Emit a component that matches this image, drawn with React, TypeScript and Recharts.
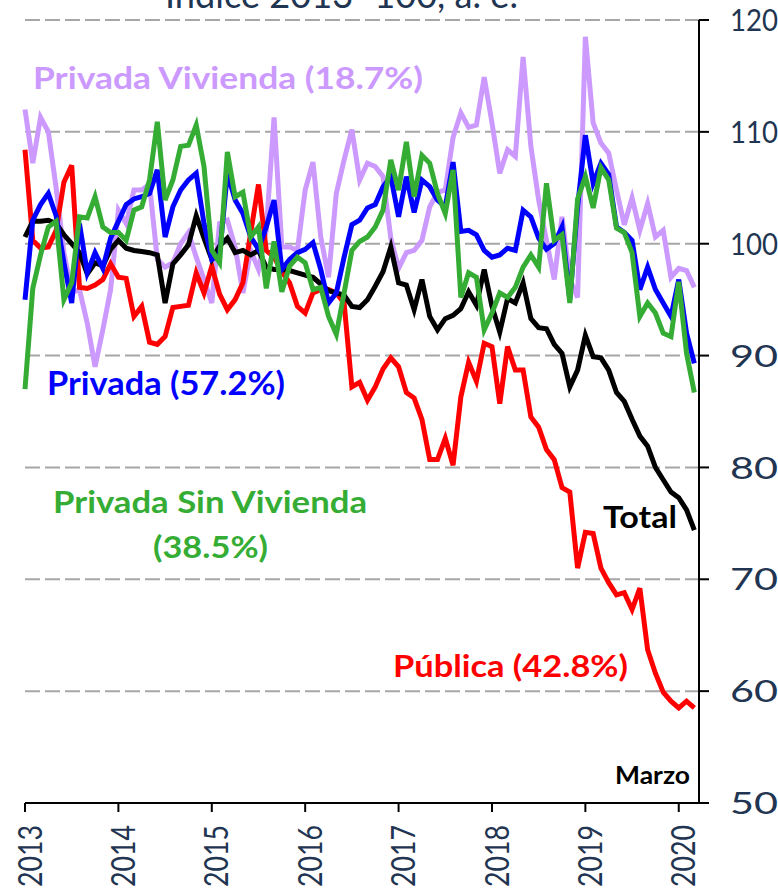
import React from 'react';
import { LineChart, Line, XAxis, YAxis, CartesianGrid } from 'recharts';

// monthly index, Jan 2013 .. Mar 2020 (index 2013 = 100, s.a.)
const years = ['2013', '2014', '2015', '2016', '2017', '2018', '2019', '2020'];
const yTicks = [50, 60, 70, 80, 90, 100, 110, 120];

const total = [
  100.6, 102.0, 102.0, 102.1, 101.8, 100.8, 100.0, 99.2, 97.3, 98.3, 98.0, 99.5,
  100.3, 99.6, 99.4, 99.3, 99.2, 99.0, 94.7, 98.2, 99.0, 99.9, 102.5, 100.5,
  98.6, 99.8, 100.5, 99.2, 99.4, 99.0, 99.4, 97.9, 97.7, 97.7, 97.6, 97.4,
  97.2, 97.0, 96.4, 95.8, 95.6, 95.4, 94.4, 94.3, 95.0, 96.2, 97.5, 99.7,
  96.5, 96.3, 94.1, 96.8, 93.5, 92.3, 93.3, 93.6, 94.2, 95.7, 94.5, 97.7,
  94.4, 92.1, 95.1, 94.7, 96.5, 93.3, 92.5, 92.4, 91.0, 90.2, 87.2, 88.7,
  91.8, 89.9, 89.8, 88.7, 86.7, 85.9, 84.3, 82.8, 81.9, 80.0, 78.9, 77.8,
  77.3, 76.2, 74.4,
];

const privada = [
  95.0, 102.1, 103.5, 104.5, 102.5, 98.3, 94.7, 101.8, 97.4, 99.2, 97.8, 100.5,
  102.0, 103.5, 104.0, 104.2, 104.5, 106.6, 100.6, 103.3, 104.8, 105.7, 106.3, 101.8,
  98.6, 99.0, 106.3, 103.9, 102.7, 100.6, 99.5, 101.5, 103.9, 97.7, 98.6, 99.2,
  99.5, 100.1, 97.7, 94.7, 95.6, 98.8, 101.7, 102.1, 103.2, 103.5, 105.1, 106.0,
  102.4, 106.0, 102.8, 105.7, 105.1, 103.9, 103.3, 107.3, 101.1, 101.2, 100.8, 99.4,
  98.8, 99.0, 99.6, 99.4, 103.0, 102.4, 100.5, 99.5, 100.0, 101.5, 95.0, 103.3,
  109.7, 105.4, 107.2, 106.2, 101.5, 101.0, 100.3, 95.9, 97.9, 95.9, 94.7, 93.5,
  96.8, 92.0, 89.3,
];

const vivienda = [
  112.0, 107.2, 111.3, 110.0, 105.0, 99.2, 95.6, 95.9, 92.9, 89.0, 92.3, 95.9,
  103.0, 101.8, 104.8, 104.8, 105.3, 98.6, 97.9, 98.3, 100.0, 101.0, 98.8, 96.8,
  94.7, 101.8, 102.1, 99.7, 95.6, 99.4, 97.7, 101.2, 111.3, 99.7, 99.7, 99.4,
  104.8, 107.3, 100.6, 97.0, 104.5, 107.5, 110.2, 105.7, 107.2, 106.9, 106.0, 100.5,
  97.8, 99.2, 99.4, 100.3, 103.3, 104.6, 104.8, 109.5, 111.7, 110.4, 110.6, 114.9,
  110.8, 106.3, 108.4, 107.8, 116.7, 108.7, 103.9, 100.3, 96.8, 102.4, 96.8, 95.2,
  118.5, 110.8, 109.0, 108.1, 104.8, 101.7, 104.1, 101.2, 103.6, 100.6, 101.2, 97.0,
  97.8, 97.6, 96.1,
];

const sinVivienda = [
  87.0, 96.0, 99.0, 101.5, 102.0, 95.0, 96.5, 102.4, 102.3, 104.2, 101.5, 101.0,
  101.0, 100.3, 103.0, 103.3, 105.7, 110.9, 103.9, 105.7, 108.7, 108.8, 110.6, 106.9,
  99.4, 98.3, 108.2, 104.2, 104.6, 100.6, 101.5, 96.0, 100.2, 95.7, 98.0, 98.8,
  98.3, 95.9, 96.1, 93.5, 91.9, 95.6, 99.4, 100.2, 100.6, 101.5, 103.0, 107.5,
  104.8, 109.1, 104.2, 107.9, 107.2, 104.5, 102.7, 106.6, 95.2, 97.4, 97.0, 92.3,
  93.8, 95.6, 95.2, 96.1, 97.9, 99.0, 97.9, 105.4, 100.3, 100.8, 94.7, 104.0,
  106.0, 103.2, 106.8, 105.7, 101.4, 101.0, 99.2, 93.5, 94.7, 93.8, 92.0, 91.7,
  96.6, 90.2, 86.7,
];

const publica = [
  108.4, 100.3, 99.6, 99.7, 101.2, 105.5, 107.0, 96.1, 96.0, 96.3, 96.8, 98.2,
  97.0, 96.9, 93.5, 94.4, 91.2, 91.0, 91.7, 94.3, 94.4, 94.5, 97.4, 95.6,
  98.0, 95.5, 94.1, 95.0, 96.5, 101.0, 105.3, 99.4, 98.8, 97.5, 96.5, 94.4,
  93.8, 95.6, 95.9, 95.9, 95.6, 94.7, 87.2, 87.6, 86.0, 87.2, 88.8, 89.8,
  89.0, 86.7, 86.2, 84.3, 80.7, 80.7, 82.6, 80.2, 86.3, 89.4, 87.7, 91.1,
  90.8, 85.7, 90.8, 88.7, 88.7, 84.5, 83.6, 81.6, 80.7, 78.2, 77.8, 71.0,
  74.2, 74.1, 71.0, 69.7, 68.6, 68.8, 67.3, 69.2, 63.7, 61.6, 59.9, 59.1,
  58.5, 59.1, 58.5,
];

const data = total.map((v, i) => ({
  m: i,
  total: v,
  privada: privada[i],
  vivienda: vivienda[i],
  sinVivienda: sinVivienda[i],
  publica: publica[i],
}));

const yearTicks = years.map((_, k) => k * 12);

const navy = '#1f3552';
const font = 'Lato, "Noto Sans", sans-serif';

const XTick = (props: any) => {
  const { x, payload } = props;
  const label = years[Math.round(payload.value / 12)];
  return (
    <g transform={`translate(${x},825)`}>
      <text
        transform="rotate(-90)"
        x={0}
        y={5}
        dy="0.36em"
        textAnchor="end"
        fontSize={32}
        fontFamily={font}
        fill={navy}
        textLength={62}
        lengthAdjust="spacingAndGlyphs"
      >
        {label}
      </text>
    </g>
  );
};

const YTick = (props: any) => {
  const { y, payload } = props;
  return (
    <text
      x={730}
      y={y}
      dy="0.36em"
      fontSize={31}
      fontFamily={font}
      fill={navy}
      textLength={48}
      lengthAdjust="spacingAndGlyphs"
    >
      {payload.value}
    </text>
  );
};

const Labels = () => (
  <svg
    width={778}
    height={889}
    style={{ position: 'absolute', left: 0, top: 0, pointerEvents: 'none', whiteSpace: 'pre' }}
    fontFamily={font}
  >
    <text x={165} y={8} fontSize={36} fill={navy} textLength={353} lengthAdjust="spacingAndGlyphs">
      Índice 2013=100, a. e.
    </text>
    <text x={33} y={89} fontSize={31} fontWeight="bold" fill="#cc99ff" textLength={390} lengthAdjust="spacingAndGlyphs">
      {'Privada Vivienda  (18.7%)'}
    </text>
    <text x={47} y={395} fontSize={32} fontWeight="bold" fill="#0000ff" textLength={238} lengthAdjust="spacingAndGlyphs">
      Privada (57.2%)
    </text>
    <text x={53} y={513} fontSize={31} fontWeight="bold" fill="#35ad35" textLength={314} lengthAdjust="spacingAndGlyphs">
      Privada Sin Vivienda
    </text>
    <text x={153} y={558} fontSize={31} fontWeight="bold" fill="#35ad35" textLength={115} lengthAdjust="spacingAndGlyphs">
      (38.5%)
    </text>
    <text x={603} y={528} fontSize={31} fontWeight="bold" fill="#000000" textLength={74} lengthAdjust="spacingAndGlyphs">
      Total
    </text>
    <text x={393} y={677} fontSize={31} fontWeight="bold" fill="#ff0000" textLength={235} lengthAdjust="spacingAndGlyphs">
      Pública (42.8%)
    </text>
    <text x={615} y={784} fontSize={24} fontWeight="bold" fill="#000000" textLength={75} lengthAdjust="spacingAndGlyphs">
      Marzo
    </text>
  </svg>
);

export default function App() {
  return (
    <div style={{ position: 'relative', width: 778, height: 889, background: '#fff', overflow: 'hidden' }}>
      <style>{'body{margin:0}'}</style>
      <LineChart
        width={778}
        height={889}
        data={data}
        margin={{ top: 20, right: 9, bottom: 6, left: 25 }}
      >
        <CartesianGrid vertical={false} stroke="#a6a6a6" strokeWidth={2} strokeDasharray="15 5" />
        <XAxis
          dataKey="m"
          type="number"
          domain={[0, 86.6]}
          ticks={yearTicks}
          interval={0}
          height={80}
          axisLine={{ stroke: '#000', strokeWidth: 2 }}
          tickLine={{ stroke: '#000', strokeWidth: 2 }}
          tickSize={9}
          tick={<XTick />}
        />
        <YAxis
          orientation="right"
          domain={[50, 120]}
          ticks={yTicks}
          interval={0}
          width={70}
          axisLine={{ stroke: '#000', strokeWidth: 2 }}
          tickLine={{ stroke: '#000', strokeWidth: 2 }}
          tickSize={10}
          tick={<YTick />}
        />
        <Line type="linear" dataKey="vivienda" stroke="#cc99ff" strokeWidth={5} dot={false} isAnimationActive={false} />
        <Line type="linear" dataKey="publica" stroke="#ff0000" strokeWidth={5} dot={false} isAnimationActive={false} />
        <Line type="linear" dataKey="total" stroke="#000000" strokeWidth={5} dot={false} isAnimationActive={false} />
        <Line type="linear" dataKey="privada" stroke="#0000ff" strokeWidth={5} dot={false} isAnimationActive={false} />
        <Line type="linear" dataKey="sinVivienda" stroke="#35ad35" strokeWidth={5} dot={false} isAnimationActive={false} />
      </LineChart>
      <Labels />
    </div>
  );
}
